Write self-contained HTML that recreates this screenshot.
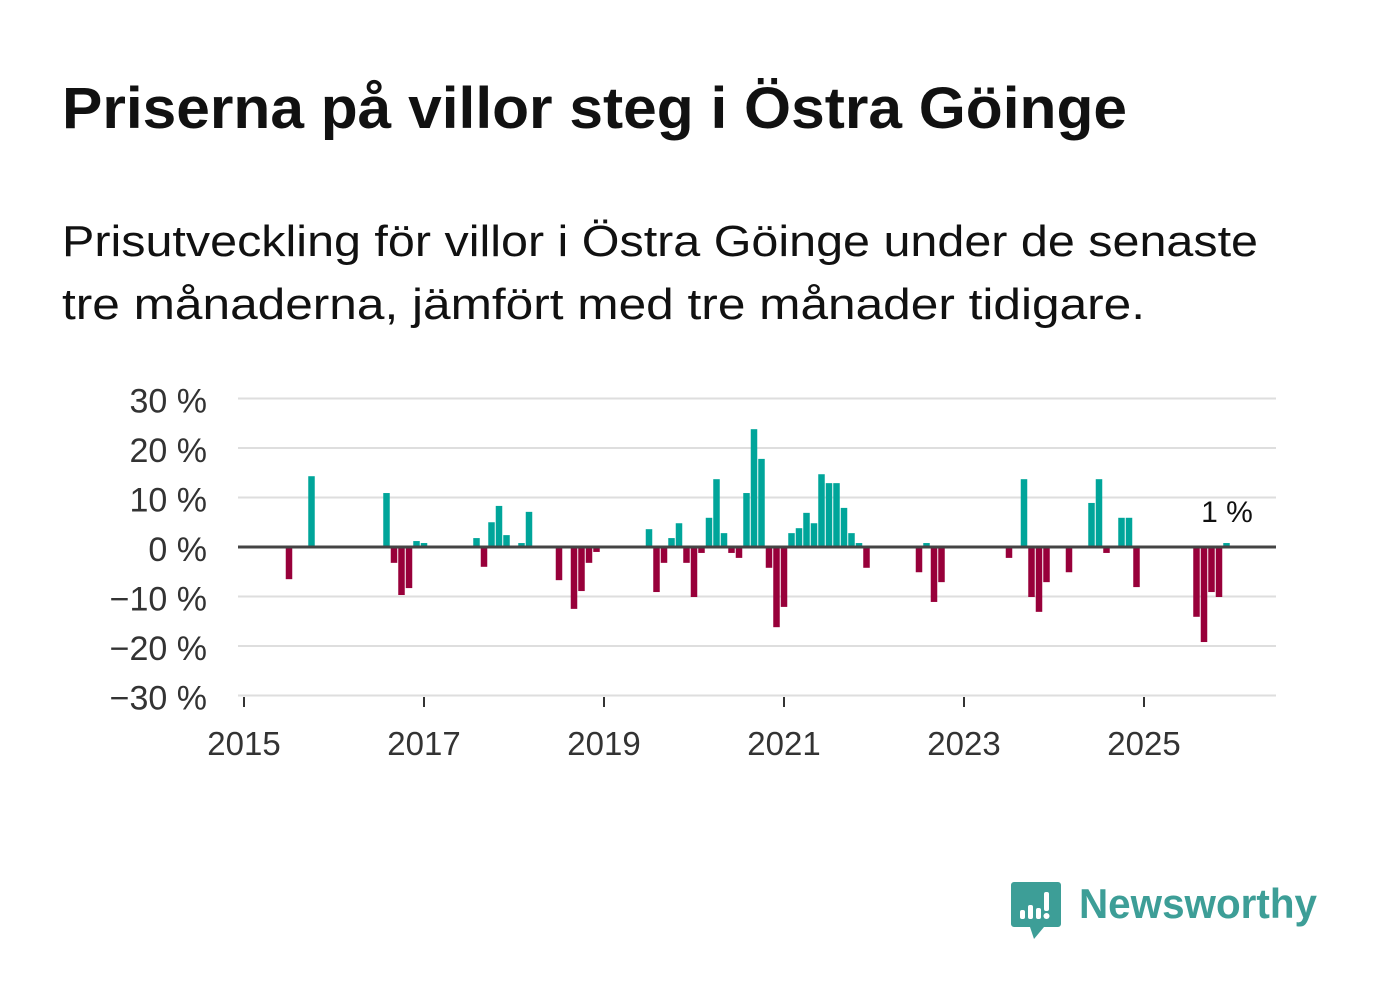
<!DOCTYPE html>
<html><head><meta charset="utf-8"><style>
html,body{margin:0;padding:0;background:#fff;}
svg{display:block;font-family:"Liberation Sans",sans-serif;}
</style></head><body>
<svg width="1382" height="999" viewBox="0 0 1382 999" xmlns="http://www.w3.org/2000/svg">
<text x="62" y="128" font-size="58" font-weight="bold" fill="#111" textLength="1065" lengthAdjust="spacingAndGlyphs">Priserna på villor steg i Östra Göinge</text>
<text x="62" y="256" font-size="44" fill="#111" textLength="1196" lengthAdjust="spacingAndGlyphs">Prisutveckling för villor i Östra Göinge under de senaste</text>
<text x="62" y="319" font-size="44" fill="#111" textLength="1083" lengthAdjust="spacingAndGlyphs">tre månaderna, jämfört med tre månader tidigare.</text>
<g id="grid"></g>
<g id="bars"></g>
<g id="axes"></g>
<text x="1227" y="522" font-size="30" fill="#111" text-anchor="middle">1 %</text>
<g>
<path d="M1014 882 h44 a3 3 0 0 1 3 3 v39 a3 3 0 0 1 -3 3 h-14 l-10 12 l-4 -12 h-16 a3 3 0 0 1 -3 -3 v-39 a3 3 0 0 1 3 -3z" fill="#3d9e97"/>
<rect x="1020" y="910" width="5" height="9" rx="2" fill="#fff"/>
<rect x="1028" y="905" width="5" height="14" rx="2" fill="#fff"/>
<rect x="1036" y="908" width="5" height="11" rx="2" fill="#fff"/>
<rect x="1044" y="892" width="5" height="19" rx="2" fill="#fff"/>
<circle cx="1046.5" cy="916" r="3" fill="#fff"/>
<text x="1079" y="918" font-size="42" font-weight="bold" fill="#3d9e97" textLength="238" lengthAdjust="spacingAndGlyphs">Newsworthy</text>
</g>
</svg>
<script>
const months = [6,9,19,20,21,22,23,24,31,32,33,34,35,37,38,42,44,45,46,47,54,55,56,57,58,59,60,61,62,63,64,65,66,67,68,69,70,71,72,73,74,75,76,77,78,79,80,81,82,83,90,91,92,93,102,104,105,106,107,110,113,114,115,117,118,119,127,128,129,130,131];
const values = [-6.5,14.3,10.9,-3.2,-9.7,-8.3,1.2,0.8,1.8,-4,5,8.3,2.4,0.8,7.1,-6.7,-12.5,-8.9,-3.2,-1,3.6,-9.1,-3.2,1.8,4.8,-3.2,-10.1,-1.2,5.9,13.7,2.8,-1.2,-2.2,10.9,23.8,17.8,-4.2,-16.2,-12.1,2.8,3.8,6.9,4.8,14.7,12.9,12.9,7.9,2.8,0.8,-4.2,-5.1,0.8,-11.1,-7.1,-2.2,13.7,-10.1,-13.1,-7.1,-5.1,8.9,13.7,-1.2,5.9,5.9,-8.1,-14.1,-19.2,-9.1,-10.1,0.8];
const yTicks = [30,20,10,0,-10,-20,-30];
const yTickLabels = ["30 %","20 %","10 %","0 %","−10 %","−20 %","−30 %"];
const xTicks = [2015,2017,2019,2021,2023,2025];
const NS="http://www.w3.org/2000/svg";
const y = v => 547 - v*4.95;
const xm = m => 244 + m*7.5;
const xy = yr => xm((yr-2015)*12);
function mk(tag, attrs, parent){const e=document.createElementNS(NS,tag);for(const k in attrs)e.setAttribute(k,attrs[k]);parent.appendChild(e);return e;}
const grid=document.getElementById('grid'), bars=document.getElementById('bars'), axes=document.getElementById('axes');
yTicks.forEach((t,i)=>{
  if(t!==0){const l=mk('line',{x1:238,x2:1276,y1:y(t),y2:y(t),stroke:'#dedede','stroke-width':2},grid);
  
  }
  const tx=mk('text',{x:207,y:y(t)+14,'font-size':34,fill:'#333','text-anchor':'end'},axes);
  tx.textContent=yTickLabels[i];
  
  
});
months.forEach((m,i)=>{
  const v=values[i];
  const r=mk('rect',{x:xm(m)-3.25,width:6.5,y:v>=0?y(v):y(0),height:Math.abs(v)*4.95,fill:v>=0?'#00a59a':'#98003a'},bars);
  
  
});
const zl=mk('line',{x1:238,x2:1276,y1:y(0),y2:y(0),stroke:'#444','stroke-width':3},axes);


xTicks.forEach(yr=>{
  const tk=mk('line',{x1:xy(yr),x2:xy(yr),y1:697,y2:707,stroke:'#333','stroke-width':2},axes);
  
  
  const tx=mk('text',{x:xy(yr),y:755,'font-size':33,fill:'#333','text-anchor':'middle'},axes);
  tx.textContent=yr;
  
  
});
</script>
</body></html>
